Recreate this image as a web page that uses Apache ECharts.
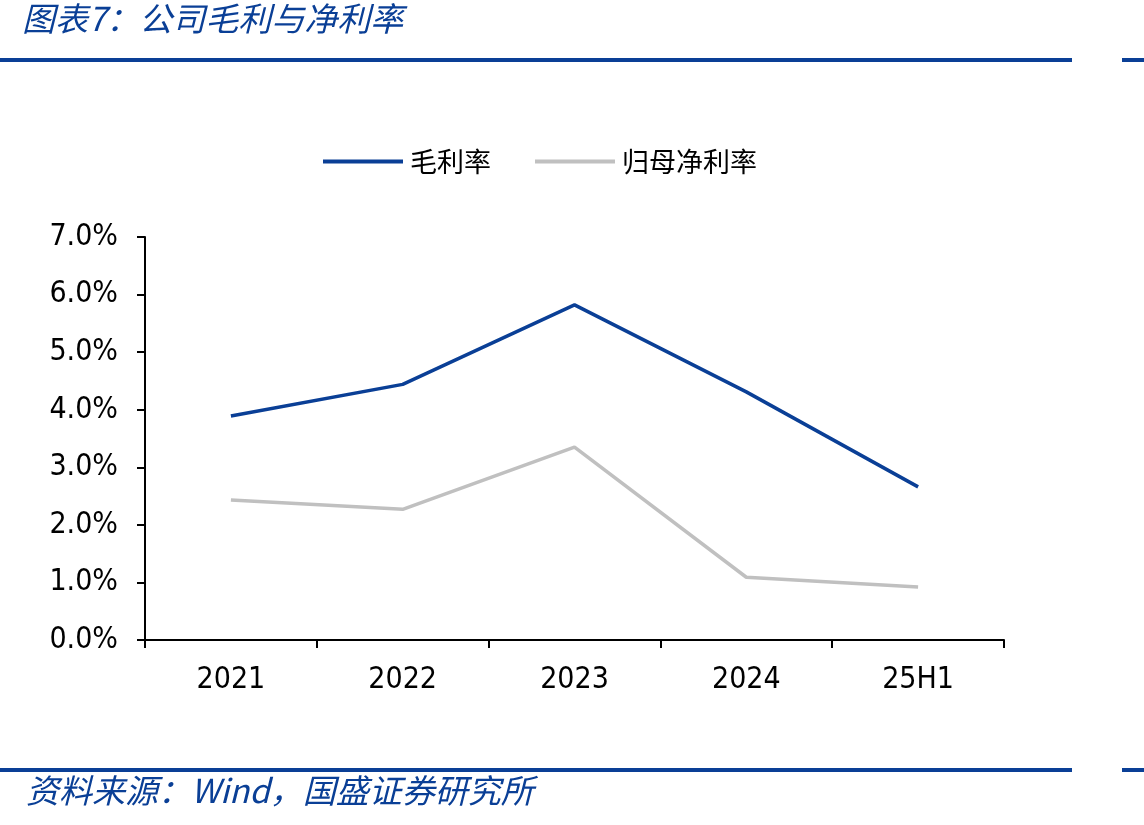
<!DOCTYPE html>
<html>
<head>
<meta charset="utf-8">
<script src="https://cdn.jsdelivr.net/npm/echarts@6/dist/echarts.min.js"></script>
<style>
  html, body { margin: 0; padding: 0; background: #fff; }
  #chart { width: 1144px; height: 825px; }
</style>
</head>
<body>
<div id="chart"></div>
<script>
const categories = ['2021', '2022', '2023', '2024', '25H1']
const grossMargin = [3.89, 4.44, 5.82, 4.31, 2.66]
const netMargin = [2.43, 2.27, 3.35, 1.09, 0.92]
const yTicks = { min: 0, max: 7, interval: 1 }

const blue = '#0a3f96'
const gray = '#c0c0c0'
const cjk = '"Noto Sans CJK SC", sans-serif'
const num = '"DejaVu Sans Condensed", "DejaVu Sans", sans-serif'

const chart = echarts.init(document.getElementById('chart'))

const options = {
    backgroundColor: '#fff',
    animation: false,
    graphic: [
        {
            type: 'text', left: 22, top: 2,
            style: { text: '图表7：公司毛利与净利率', fill: blue, font: 'italic 33px ' + cjk }
        },
        { type: 'rect', shape: { x: 0, y: 58, width: 1072, height: 4 }, style: { fill: blue } },
        { type: 'rect', shape: { x: 1122, y: 58, width: 22, height: 4 }, style: { fill: blue } },
        { type: 'rect', shape: { x: 0, y: 768, width: 1072, height: 4 }, style: { fill: blue } },
        { type: 'rect', shape: { x: 1122, y: 768, width: 22, height: 4 }, style: { fill: blue } },
        {
            type: 'text', left: 26, top: 774,
            style: { text: '资料来源：Wind，国盛证券研究所', fill: blue, font: 'italic 33px ' + cjk }
        }
    ],
    legend: {
        left: 318,
        top: 143,
        itemWidth: 80,
        itemHeight: 4,
        itemGap: 44,
        textStyle: { fontFamily: cjk, fontSize: 27, color: '#000', padding: [0, 0, 0, 2] },
        data: [
            { name: '毛利率', icon: 'rect' },
            { name: '归母净利率', icon: 'rect' }
        ]
    },
    grid: { left: 145, right: 140, top: 237, bottom: 185, containLabel: false },
    xAxis: {
        type: 'category',
        data: categories,
        boundaryGap: true,
        axisLine: { lineStyle: { color: '#000', width: 2 } },
        axisTick: { show: true, length: 8, lineStyle: { color: '#000', width: 2 } },
        axisLabel: { color: '#000', fontSize: 30, fontFamily: num, margin: 25 }
    },
    yAxis: {
        type: 'value',
        min: yTicks.min,
        max: yTicks.max,
        interval: yTicks.interval,
        axisLine: { show: true, lineStyle: { color: '#000', width: 2 } },
        axisTick: { show: true, length: 8, lineStyle: { color: '#000', width: 2 } },
        splitLine: { show: false },
        axisLabel: {
            color: '#000', fontSize: 30, fontFamily: num, margin: 27,
            formatter: v => v.toFixed(1) + '%'
        }
    },
    series: [
        {
            name: '毛利率',
            type: 'line',
            data: grossMargin,
            symbol: 'none',
            itemStyle: { color: blue },
            lineStyle: { color: blue, width: 3.5 }
        },
        {
            name: '归母净利率',
            type: 'line',
            data: netMargin,
            symbol: 'none',
            itemStyle: { color: gray },
            lineStyle: { color: gray, width: 3.5 }
        }
    ]
}

chart.setOption(options)
</script>
</body>
</html>
